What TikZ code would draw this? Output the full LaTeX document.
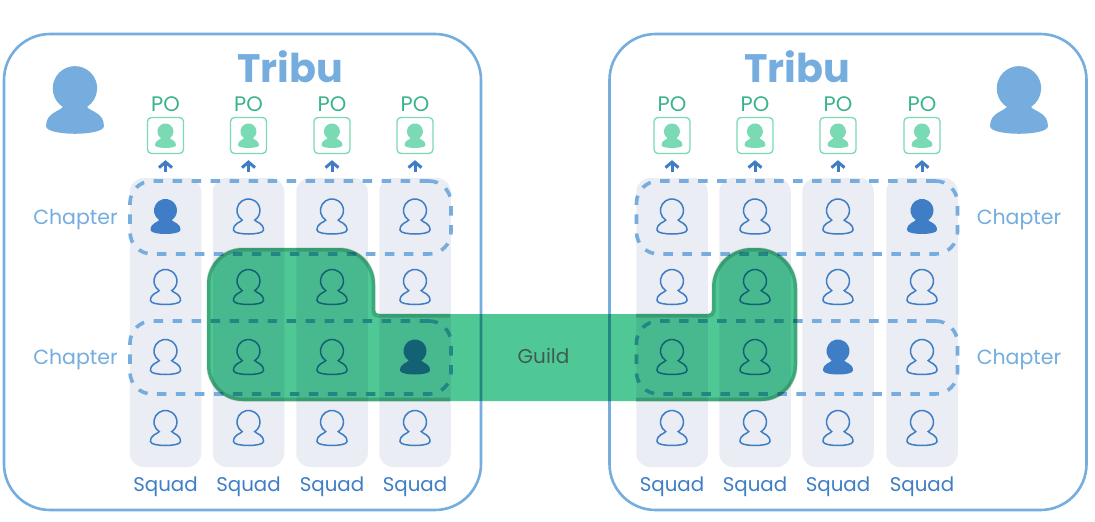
\documentclass[tikz,border=0pt]{standalone}
\usepackage{fontspec}
\setmainfont{Poppins}
\usetikzlibrary{arrows.meta}
\definecolor{tribeblue}{HTML}{74ADDE}
\definecolor{colgrey}{HTML}{EAEDF3}
\definecolor{iconblue}{HTML}{3F7EC6}
\definecolor{dashblue}{HTML}{76ACDE}
\definecolor{pogreen}{HTML}{38B488}
\definecolor{pomint}{HTML}{7ADAB4}
\definecolor{guildfill}{HTML}{4FC896}
\definecolor{guildedge}{HTML}{C8D8D0}
\definecolor{guildink}{HTML}{3E5C52}
\tikzset{
  tribebox/.style={draw=tribeblue,line width=2.6pt,rounded corners=46pt,minimum width=477pt,minimum height=476pt,inner sep=0pt},
  column/.style={fill=colgrey,rounded corners=14pt,minimum width=71.5pt,minimum height=289pt,inner sep=0pt},
  chapterbox/.style={draw=dashblue,line width=3.6pt,dash pattern=on 9.5pt off 9.5pt,rounded corners=22pt,minimum width=321pt,minimum height=73pt,inner sep=0pt},
  pobox/.style={draw=pomint,fill=white,line width=1.3pt,rounded corners=4pt,minimum size=36pt,inner sep=0pt},
  tribetext/.style={text=tribeblue,font=\fontsize{39.7}{40}\selectfont\bfseries,inner sep=0pt},
  potext/.style={text=pogreen,font=\fontsize{21}{22}\selectfont,inner sep=0pt},
  squadtext/.style={text=iconblue,font=\fontsize{19.8}{22}\selectfont,inner sep=0pt},
  chaptertext/.style={text=tribeblue,font=\fontsize{20.5}{22}\selectfont,inner sep=0pt},
  guildtext/.style={text=guildink,font=\fontsize{20}{22}\selectfont,inner sep=0pt},
  uparrow/.style={draw=iconblue,line width=3pt,-{Straight Barb[length=5.5pt,width=13pt,line width=3pt]},shorten <=6pt,shorten >=6pt},
  pics/person/.style n args={2}{code={
    \path[#2,yscale=-1,scale=#1]
      (-6.3,3.6) arc[start angle=123,end angle=417,radius=11.5pt]
      .. controls (8,6) and (15,6.5) .. (15,13.5)
      .. controls (15,16.5) and (6,17.5) .. (0,17.5)
      .. controls (-6,17.5) and (-15,16.5) .. (-15,13.5)
      .. controls (-15,6.5) and (-8,6) .. (-6.3,3.6) -- cycle;
  }},
  outlined/.style={draw=iconblue,fill=none,line width=1.5pt},
  solidblue/.style={fill=iconblue},
  bigicon/.style={fill=tribeblue},
  minticon/.style={fill=pomint}
}
\begin{document}
\begin{tikzpicture}[x=1pt,y=1pt,yscale=-1]
\useasboundingbox (0,0) rectangle (1095,522);
\fill[white] (0,0) rectangle (1095,522);

\node[tribebox] (tribeL) at (242.5,272) {};
\node[tribebox] (tribeR) at (848,272) {};

\foreach \n/\x in {1/165.5,2/248.5,3/332,4/415,5/672,6/755,7/838,8/922}{
  \node[column] (col\n) at (\x,322.5) {};
  \node[pobox] (po\n) at (\x,135.5) {};
  \pic at (\x,135.7) {person={0.7}{minticon}};
  \node[potext] (potxt\n) at (\x,104.5) {PO};
  \node[squadtext] (squad\n) at (\x,487) {Squad};
  \draw[uparrow] (col\n.north) -- (po\n.south);
}

% ordinary members, column by column
\foreach \x/\ys in {165.5/{287,357,428},248.5/{216.5,287,357,428},332/{216.5,287,357,428},415/{216.5,287,428},
                    672/{216.5,287,357,428},755/{216.5,287,357,428},838/{216.5,287,428},922/{287,357,428}}{
  \foreach \y in \ys {
    \pic at (\x,\y) {person={1}{outlined}};
  }
}

% highlighted members
\foreach \x/\y in {165.5/216.5,415/357,838/357,922/216.5}{
  \pic at (\x,\y) {person={1}{solidblue}};
}

\node[chapterbox] (chL1) at (290.5,217.5) {};
\node[chapterbox] (chL2) at (290.5,357.5) {};
\node[chapterbox] (chR1) at (797,217.5) {};
\node[chapterbox] (chR2) at (797,357.5) {};

% guild
\begin{scope}[blend mode=multiply]
\fill[guildfill]
  [rounded corners=36pt] (207,248) -- (375,248)
  [rounded corners=4pt] -- (375,314) -- (712,314)
  [rounded corners=40pt] -- (712,248) -- (797,248)
  [rounded corners=36pt] -- (797,401) -- (207,401) -- cycle;
\draw[guildedge,line width=4pt]
  (450,399.5) [rounded corners=34pt] -- (208.5,399.5) -- (208.5,249.5) -- (373.5,249.5)
  [rounded corners=4pt] -- (373.5,315.5) -- (450,315.5);
\draw[guildedge,line width=4pt]
  (636,315.5) [rounded corners=4pt] -- (713.5,315.5)
  [rounded corners=38pt] -- (713.5,249.5) -- (795.5,249.5)
  [rounded corners=34pt] -- (795.5,399.5) -- (636,399.5);
\end{scope}

\node[tribetext] (titleL) at (290,67) {Tribu};
\node[tribetext] (titleR) at (797,67) {Tribu};
\pic at (75,100) {person={1.93}{bigicon}};
\pic at (1019,100) {person={1.93}{bigicon}};
\node[chaptertext] (c1) at (75.5,219.5) {Chapter};
\node[chaptertext] (c2) at (75.5,359.5) {Chapter};
\node[chaptertext] (c3) at (1019,219.5) {Chapter};
\node[chaptertext] (c4) at (1019,359.5) {Chapter};
\node[guildtext] (guild) at (543.5,356) {Guild};
\end{tikzpicture}
\end{document}
